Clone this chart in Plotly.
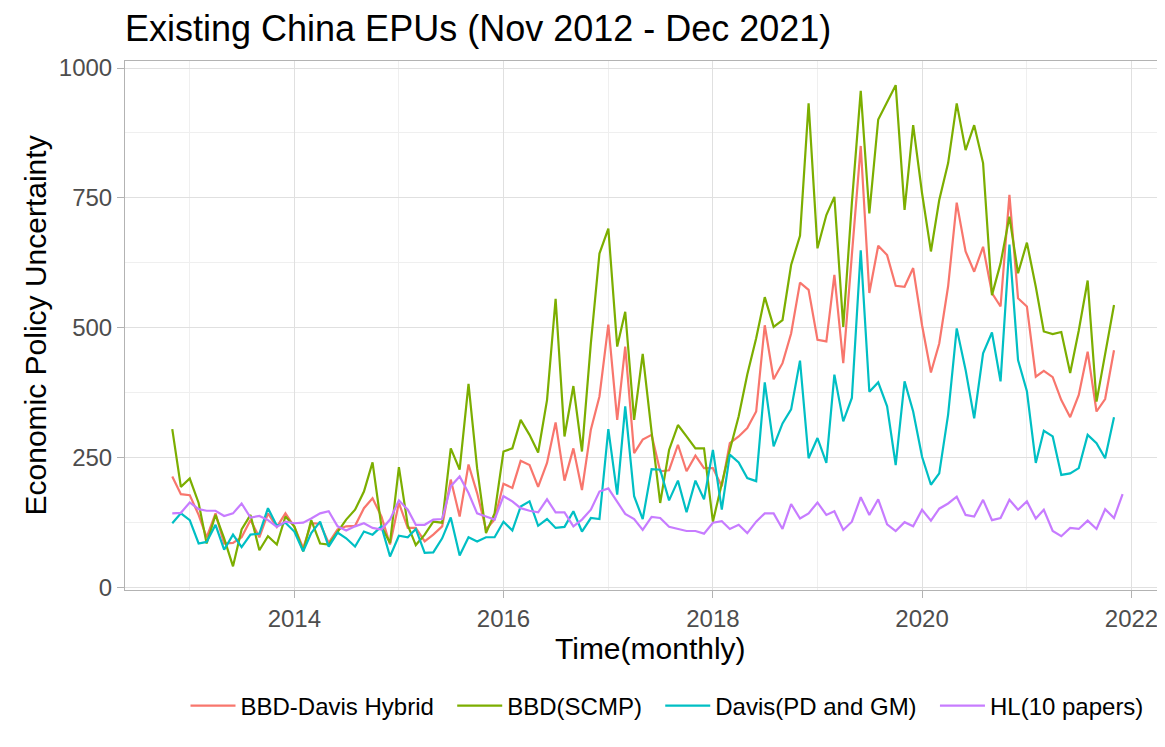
import pandas as pd
import plotly.graph_objects as go

hybrid = [214, 180, 178, 140, 97, 143, 85, 86, 97, 130, 97, 143, 117, 143, 117, 76, 124, 123, 86, 112,
          118, 119, 153, 172, 137, 83, 163, 115, 115, 89, 102, 118, 208, 137, 237, 182, 112, 131, 200, 192,
          244, 236, 194, 240, 318, 206, 268, 188, 304, 368, 506, 323, 464, 259, 285, 294, 224, 226, 275, 224,
          254, 230, 230, 195, 278, 291, 307, 339, 505, 401, 432, 489, 587, 573, 477, 474, 602, 432, 640, 850,
          567, 658, 640, 581, 579, 615, 505, 414, 470, 580, 741, 647, 608, 656, 567, 541, 756, 557, 541, 406,
          417, 405, 361, 328, 371, 454, 339, 363, 457]
scmp = [305, 194, 210, 163, 85, 140, 95, 41, 112, 140, 72, 99, 83, 137, 118, 70, 130, 85, 83, 108,
        131, 150, 185, 241, 118, 86, 232, 120, 82, 102, 127, 125, 268, 227, 392, 230, 105, 143, 262, 268,
        323, 294, 260, 361, 556, 291, 388, 262, 470, 643, 691, 464, 531, 323, 450, 300, 163, 265, 313, 291,
        268, 268, 127, 200, 265, 330, 410, 480, 559, 502, 515, 621, 677, 932, 653, 717, 752, 502, 740, 956,
        720, 901, 933, 967, 727, 890, 759, 647, 746, 817, 932, 842, 890, 817, 563, 624, 714, 605, 664, 579,
        493, 488, 492, 413, 495, 591, 358, 451, 544]
davis = [124, 143, 130, 85, 88, 121, 73, 102, 78, 102, 104, 153, 119, 125, 108, 70, 105, 127, 79, 106,
         95, 79, 108, 102, 118, 60, 100, 97, 113, 67, 68, 95, 135, 62, 97, 89, 97, 97, 127, 110,
         156, 166, 119, 132, 115, 117, 147, 108, 134, 132, 305, 179, 349, 176, 132, 228, 227, 168, 206, 145,
         206, 170, 265, 150, 256, 241, 211, 205, 395, 272, 316, 343, 437, 249, 288, 240, 410, 320, 365, 649,
         377, 395, 349, 236, 397, 339, 252, 198, 220, 333, 499, 419, 326, 451, 491, 397, 660, 438, 378, 240,
         302, 291, 217, 220, 230, 294, 278, 249, 328]
hl = [143, 144, 164, 151, 148, 148, 138, 143, 162, 135, 138, 130, 117, 127, 124, 125, 133, 143, 147, 118,
      110, 118, 124, 115, 112, 131, 168, 150, 121, 121, 131, 132, 195, 214, 182, 143, 137, 131, 176, 166,
      153, 148, 145, 170, 145, 145, 118, 131, 150, 185, 191, 166, 142, 132, 111, 136, 134, 117, 113, 109,
      109, 104, 125, 128, 113, 121, 105, 127, 143, 143, 113, 161, 133, 143, 164, 140, 147, 111, 127, 174,
      140, 170, 122, 109, 126, 118, 150, 129, 152, 162, 175, 140, 137, 169, 130, 134, 169, 150, 166, 133,
      150, 109, 99, 115, 113, 129, 113, 151, 134, 180]

names = ["BBD-Davis Hybrid", "BBD(SCMP)", "Davis(PD and GM)", "HL(10 papers)"]
colors = ["#F8766D", "#7CAE00", "#00BFC4", "#C77CFF"]
series = [hybrid, scmp, davis, hl]

# the page body adds an 8px offset, so the figure is laid out 8px up/left
W, H = 1157, 739
L, R, T = 117, 2, 53
ph = 529
B = H - T - ph
pw = W - L - R
bottom = T + ph

fig = go.Figure()
for i, (nm, col, vals) in enumerate(zip(names, colors, series)):
    dates = pd.date_range("2012-11-01", periods=len(vals), freq="MS")
    label = nm + ("\u00a0\u00a0" if i < len(names) - 1 else "")
    fig.add_trace(go.Scatter(x=dates, y=vals, mode="lines", name=label,
                             line=dict(color=col, width=2.2)))

grid = "#E0E0E0"
minor_grid = "#EFEFEF"
border = "#B3B3B3"
FONT = "Liberation Sans, Arial, sans-serif"
tickfont = dict(family=FONT, size=24, color="#4D4D4D")

fig.update_layout(
    width=W, height=H,
    margin=dict(l=L, r=R, t=T, b=B, autoexpand=False),
    paper_bgcolor="white", plot_bgcolor="white",
    font=dict(family=FONT, color="black"),
    title=dict(text="Existing China EPUs (Nov 2012 - Dec 2021)", x=L / W, xanchor="left",
               y=1 - 20 / H, yanchor="middle", font=dict(size=36, color="black")),
    showlegend=True,
    legend=dict(orientation="h", x=(659 - L) / pw, xanchor="center",
                y=-(698 - bottom) / ph, yanchor="middle",
                font=dict(size=24, color="black"), itemwidth=45, traceorder="normal",
                bgcolor="rgba(0,0,0,0)"),
)
fig.update_xaxes(
    type="date", range=["2012-05-20", "2022-04-21"], tickformat="%Y", dtick="M24", tick0="2014-01-01",
    showgrid=True, gridcolor=grid, gridwidth=1,
    minor=dict(dtick="M12", tick0="2013-01-01", showgrid=True, gridcolor=minor_grid, gridwidth=1),
    showline=True, linecolor=border, linewidth=1, mirror=True,
    ticks="outside", ticklen=7, tickcolor=border, tickfont=tickfont, zeroline=False,
)
fig.update_yaxes(
    range=[-4.5, 1013.5], dtick=250, tick0=0,
    showgrid=True, gridcolor=grid, gridwidth=1,
    minor=dict(dtick=125, showgrid=True, gridcolor=minor_grid, gridwidth=1),
    showline=True, linecolor=border, linewidth=1, mirror=True,
    ticks="outside", ticklen=7, tickcolor=border, tickfont=tickfont, zeroline=False,
)
fig.add_annotation(text="Time(monthly)", xref="paper", yref="paper", x=(642 - L) / pw,
                   y=-(640 - bottom) / ph, xanchor="center", yanchor="middle", showarrow=False,
                   font=dict(size=30, color="black"))
fig.add_annotation(text="Economic Policy Uncertainty", xref="paper", yref="paper", x=-(L - 27) / pw,
                   y=0.5, xanchor="center", yanchor="middle", textangle=-90, showarrow=False,
                   font=dict(size=30, color="black"))

fig.write_html("out.html")
